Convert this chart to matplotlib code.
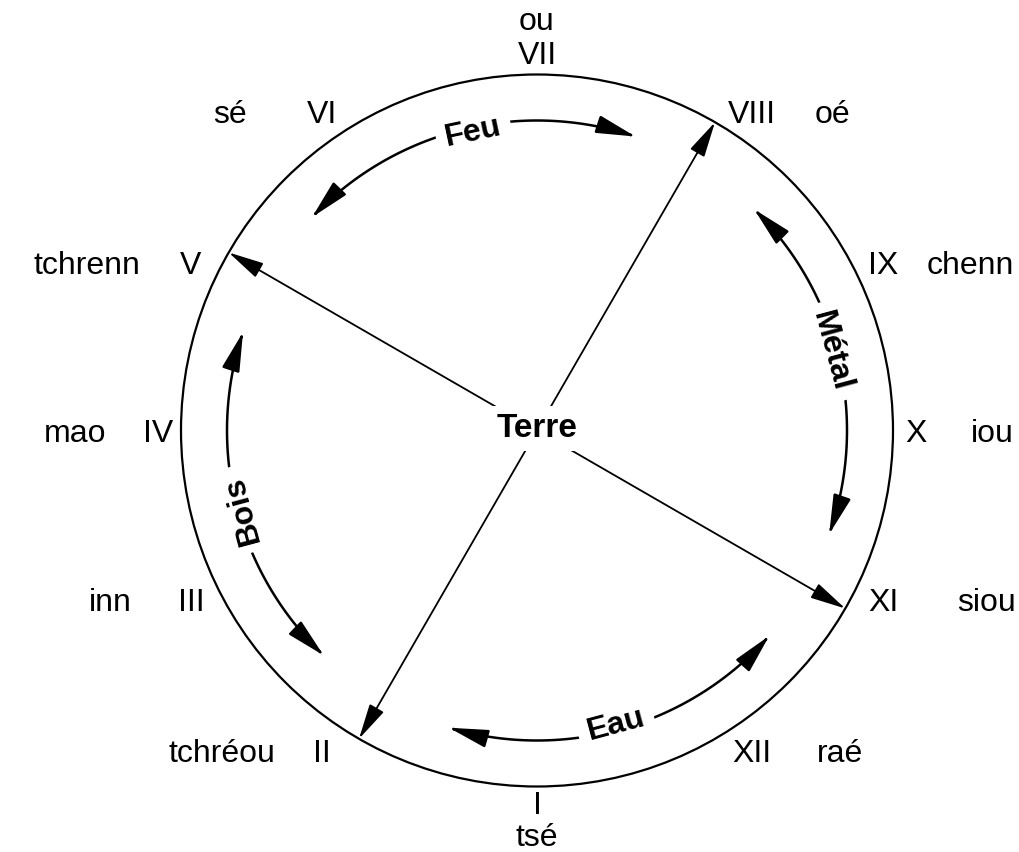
import numpy as np
import matplotlib
matplotlib.use('Agg')
import matplotlib.pyplot as plt
from matplotlib.patches import Circle, FancyArrowPatch, ArrowStyle
from matplotlib.path import Path

# les douze rameaux, de I (en bas) dans le sens des aiguilles d'une montre
chiffres = ['I', 'II', 'III', 'IV', 'V', 'VI', 'VII', 'VIII', 'IX', 'X', 'XI', 'XII']
noms = ['tsé', 'tchréou', 'inn', 'mao', 'tchrenn', 'sé', 'ou', 'oé', 'chenn', 'iou', 'siou', 'raé']

# fleches du centre vers ces rameaux, elements entre deux fleches
centre = 'Terre'
fleches = ['V', 'VIII', 'XI', 'II']
elements = ['Feu', 'Métal', 'Eau', 'Bois']

# ecart horizontal (pixels) entre le chiffre et son nom
ecart_noms = [0, -100, -81, -83, -104, -92, 0, 80, 87, 76, 104, 88]

plt.rcParams['font.family'] = ['Liberation Sans', 'DejaVu Sans']

fig = plt.figure(figsize=(10.2, 8.52), dpi=100)
ax = fig.add_axes([0, 0, 1, 1])
ax.set_xlim(-537, 483)
ax.set_ylim(-421.5, 430.5)
ax.set_aspect('equal')
ax.axis('off')

R = 356


def angle(nom):
    # I en bas, puis on tourne dans le sens horaire
    return -90 - 30 * chiffres.index(nom)


ax.add_patch(Circle((0, 0), R, fill=False, lw=1.6, ec='black'))

# rameaux et noms
for ch, nom, dx in zip(chiffres, noms, ecart_noms):
    a = angle(ch)
    s = np.sin(np.radians(2 * a))
    a2 = np.radians(a - 4.6 * s)
    r_lab = 379 + 7 * abs(s)
    if ch == 'I':
        r_lab = 372
    x, y = r_lab * np.cos(a2), r_lab * np.sin(a2)
    ax.text(x, y - 12, ch, ha='center', va='baseline', fontsize=23)
    if ch == 'VII':
        ax.text(x, y - 12 + 34, nom, ha='center', va='baseline', fontsize=23)
    elif ch == 'I':
        ax.text(x, y - 12 - 31, nom, ha='center', va='baseline', fontsize=23)
    else:
        ax.text(x + dx, y - 12, nom, ha='center', va='baseline', fontsize=23)

# fleches radiales
tete = ArrowStyle('-|>', head_length=2.2, head_width=0.5)
for ch in fleches:
    a = np.radians(angle(ch))
    ax.annotate('', xy=(R * np.cos(a), R * np.sin(a)), xytext=(0, 0),
                arrowprops=dict(arrowstyle=tete, mutation_scale=10, lw=1.3,
                                color='black', shrinkA=0, shrinkB=0), zorder=2)

ax.text(0, 2, centre, ha='center', va='center', fontsize=24, fontweight='bold',
        bbox=dict(boxstyle='square,pad=0.2', fc='white', ec='none'), zorder=5)

# arcs des elements (petits decalages)
r_arc = 310
r_txt = 305
decal_arc = [-1, -2, 1, -1]
decal_txt = [-3, 0, 0, 0]
tete2 = ArrowStyle('<|-|>', head_length=2.4, head_width=0.55)
for i, el in enumerate(elements):
    a1 = angle(fleches[i])
    a2 = angle(fleches[(i + 1) % 4])
    if a2 > a1:
        a2 -= 360
    mid = (a1 + a2) / 2
    m_arc = mid + decal_arc[i]
    t = np.radians(np.linspace(m_arc + 32.5, m_arc - 32.5, 80))
    verts = np.column_stack([r_arc * np.cos(t), r_arc * np.sin(t)])
    codes = [Path.MOVETO] + [Path.LINETO] * (len(verts) - 1)
    ax.add_patch(FancyArrowPatch(path=Path(verts, codes), arrowstyle=tete2,
                                 mutation_scale=10, lw=1.8, color='black', zorder=2))
    m_txt = mid + decal_txt[i]
    rot = ((m_txt - 90 + 180) % 360) - 180
    if rot < -90:
        rot += 180
    m = np.radians(m_txt)
    ax.text(r_txt * np.cos(m), r_txt * np.sin(m), el, ha='center', va='center',
            rotation=rot, rotation_mode='anchor', fontsize=23, fontweight='bold',
            bbox=dict(boxstyle='square,pad=0.3', fc='white', ec='none'), zorder=5)

fig.savefig('out.png', dpi=100, facecolor='white')
